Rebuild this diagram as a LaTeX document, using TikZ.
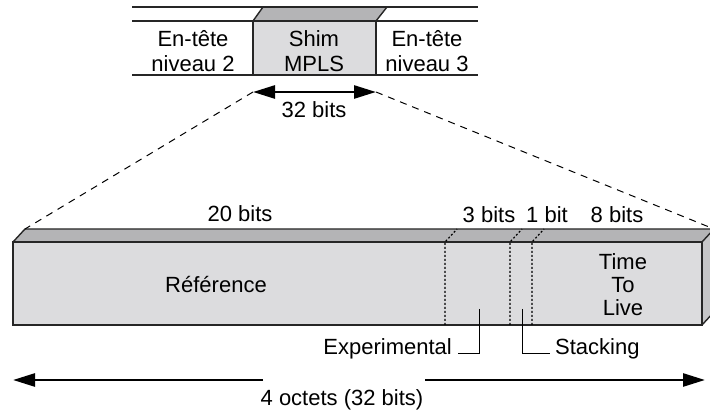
\documentclass[tikz,border=0pt]{standalone}
\usepackage{fontspec}
\setmainfont{Liberation Sans}
\usetikzlibrary{arrows.meta,positioning}
\definecolor{facegray}{HTML}{DCDCDE}
\definecolor{topgray}{HTML}{B4B4B6}
\definecolor{sidegray}{HTML}{C6C6C8}
\tikzset{
  lbl/.style={font=\fontsize{22}{23}\selectfont, inner sep=0pt, align=center},
  hdr/.style={lbl, font=\fontsize{22}{25}\selectfont},
  rule/.style={line width=1.4pt, draw=black!85},
  span/.style={line width=2.6pt, {Triangle[length=22pt,width=13pt]}-{Triangle[length=22pt,width=13pt]}},
  oneway/.style={line width=2.6pt, -{Triangle[length=22pt,width=13pt]}},
  guide/.style={line width=1pt, dash pattern=on 7pt off 6pt},
  divider/.style={line width=1.2pt, dash pattern=on 2pt off 2pt},
  leader/.style={line width=1pt}
}
\begin{document}
\begin{tikzpicture}[x=1pt,y=-1pt]
\useasboundingbox (0,0) rectangle (710,411);
% en-tetes du paquet
\fill[facegray] (253,21) rectangle (376,75);
\fill[topgray] (253,21) -- (263,7) -- (387,7) -- (376,21) -- cycle;
\draw[rule] (132,7) -- (478,7);
\draw[rule] (132,21) -- (478,21);
\draw[rule] (132,75) -- (478,75);
\draw[rule] (253,21) -- (253,75) (376,21) -- (376,75);
\draw[rule] (253,21) -- (263,7) (376,21) -- (387,7);
\node[hdr] (l2) at (193,51) {En-tête\\niveau 2};
\node[hdr] (shim) at (314,51) {Shim\\MPLS};
\node[hdr] (l3) at (427,51) {En-tête\\niveau 3};
\coordinate (sl) at (253,92);
\coordinate (sr) at (376,92);
\draw[span] (sl) -- (sr);
\node[lbl] (w32) at (314,110) {32 bits};
% le shim agrandi
\coordinate (bl) at (25,229);
\coordinate (br) at (714,229);
\fill[topgray] (13,242) -- (bl) -- (br) -- (702,242) -- cycle;
\fill[facegray] (13,242) rectangle (702,325);
\fill[sidegray] (702,242) -- (br) -- (714,312) -- (702,325) -- cycle;
\draw[rule] (13,242) rectangle (702,325);
\draw[rule] (13,242) -- (bl) -- (br) -- (702,242);
\draw[rule] (br) -- (714,312) -- (702,325);
\foreach \x in {445,510,532}
  \draw[divider] (\x,325) -- (\x,242) -- ++(12,-13);
\draw[guide] (sl) -- (bl);
\draw[guide] (sr) -- (br);
\node[lbl] (w20) at (240,214) {20 bits};
\node[lbl] (w3) at (489,215) {3 bits};
\node[lbl] (w1) at (547,215) {1 bit};
\node[lbl] (w8) at (617,215) {8 bits};
\node[lbl] (ref) at (216,285) {Référence};
\node[lbl] (ttl) at (623,285) {Time\\To\\Live};
% renvois
\node[lbl, anchor=base east] (exp) at (452,355) {Experimental};
\node[lbl, anchor=base west] (stk) at (555,355) {Stacking};
\coordinate (expt) at (479,309);
\coordinate (stkt) at (522,309);
\draw[leader] (expt) |- ([xshift=6pt,yshift=1pt]exp.base east);
\draw[leader] (stkt) |- ([xshift=-5pt,yshift=1pt]stk.base west);
% longueur totale
\node[lbl] (total) at (342,400) {4 octets (32 bits)};
\coordinate (gl) at (263,380);
\coordinate (gr) at (425,380);
\coordinate (tl) at (13,380);
\coordinate (tr) at (705,380);
\draw[oneway] (gl) -- (tl);
\draw[oneway] (gr) -- (tr);
\end{tikzpicture}
\end{document}
